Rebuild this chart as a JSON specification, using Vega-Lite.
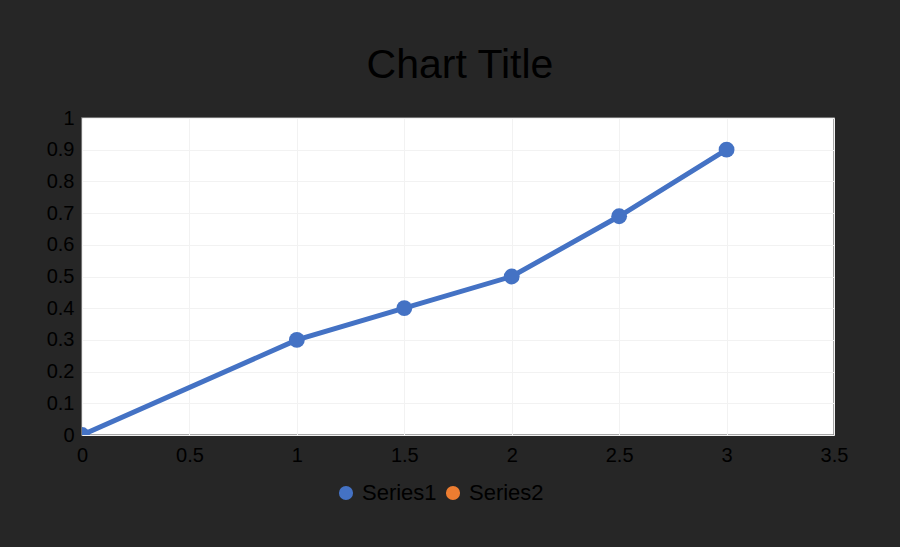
{
  "$schema": "https://vega.github.io/schema/vega-lite/v6.json",
  "autosize": "none",
  "width": 752,
  "height": 317,
  "padding": {"left": 82, "top": 118, "right": 66, "bottom": 112},
  "background": "#262626",
  "config": {
    "font": "Liberation Sans",
    "view": {"fill": "white", "stroke": "#8a8a8a", "strokeWidth": 1.5}
  },
  "title": {
    "text": "Chart Title",
    "fontSize": 41,
    "fontWeight": "normal",
    "color": "#000000",
    "font": "Liberation Sans",
    "anchor": "middle",
    "baseline": "alphabetic",
    "offset": 36,
    "dy": 47,
    "dx": 2
  },
  "data": {
    "values": [
      {"series": "Series1", "x": 0, "y": 0},
      {"series": "Series1", "x": 1, "y": 0.3},
      {"series": "Series1", "x": 1.5, "y": 0.4},
      {"series": "Series1", "x": 2, "y": 0.5},
      {"series": "Series1", "x": 2.5, "y": 0.69},
      {"series": "Series1", "x": 3, "y": 0.9}
    ]
  },
  "encoding": {
    "x": {
      "field": "x", "type": "quantitative",
      "scale": {"domain": [0, 3.5], "nice": false, "zero": false},
      "axis": {
        "title": null, "values": [0, 0.5, 1, 1.5, 2, 2.5, 3, 3.5], "format": "~g",
        "domain": false, "ticks": false, "grid": true, "gridColor": "#f2f2f2", "gridWidth": 1,
        "labelFlush": false, "labelOverlap": false,
        "labelFontSize": 20, "labelColor": "#000000", "labelPadding": 10, "labelFont": "Liberation Sans"
      }
    },
    "y": {
      "field": "y", "type": "quantitative",
      "scale": {"domain": [0, 1], "nice": false},
      "axis": {
        "title": null, "values": [0, 0.1, 0.2, 0.3, 0.4, 0.5, 0.6, 0.7, 0.8, 0.9, 1], "format": "~g",
        "domain": false, "ticks": false, "grid": true, "gridColor": "#f2f2f2", "gridWidth": 1,
        "labelFlush": false, "labelOverlap": false,
        "labelFontSize": 20, "labelColor": "#000000", "labelPadding": 8, "labelDy": 5, "labelFont": "Liberation Sans"
      }
    },
    "color": {
      "field": "series", "type": "nominal",
      "scale": {"domain": ["Series1", "Series2"], "range": ["#4472C4", "#ED7D31"]},
      "legend": {
        "title": null, "orient": "none", "direction": "horizontal",
        "legendX": 253, "legendY": 364,
        "symbolType": "circle", "symbolSize": 200, "symbolStrokeWidth": 0,
        "labelFontSize": 22, "labelColor": "#000000", "labelFont": "Liberation Sans",
        "labelOffset": 5, "columnPadding": 5
      }
    }
  },
  "layer": [
    {"mark": {"type": "line", "strokeWidth": 5, "clip": true}},
    {"mark": {"type": "point", "filled": true, "size": 250, "opacity": 1, "clip": true}}
  ]
}
